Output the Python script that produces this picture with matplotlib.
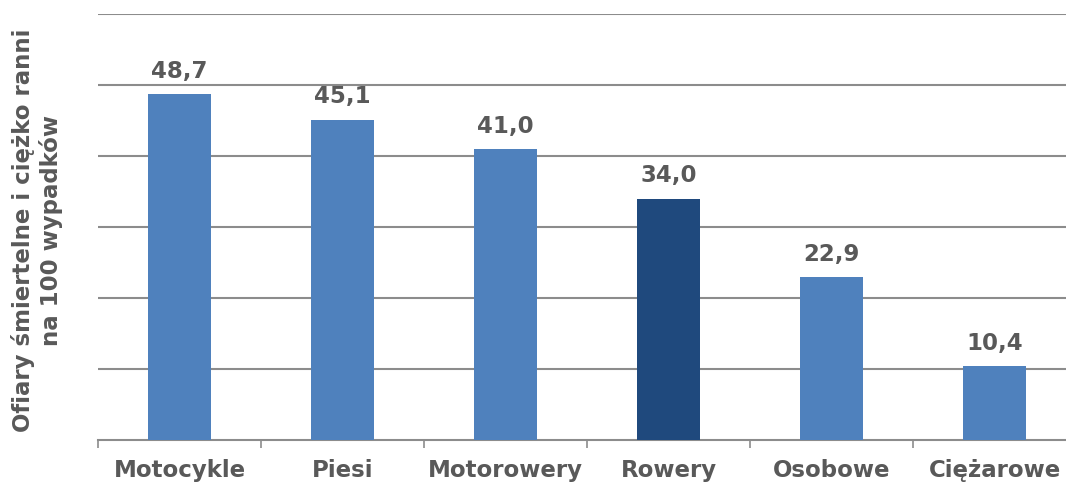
import matplotlib
matplotlib.use("Agg")
import matplotlib.pyplot as plt

categories = ["Motocykle", "Piesi", "Motorowery", "Rowery", "Osobowe", "Ciężarowe"]
values = [48.7, 45.1, 41.0, 34.0, 22.9, 10.4]
labels = ["48,7", "45,1", "41,0", "34,0", "22,9", "10,4"]
colors = ["#4F81BD", "#4F81BD", "#4F81BD", "#1F497D", "#4F81BD", "#4F81BD"]

W, H = 1066, 483
fig = plt.figure(figsize=(W / 100, H / 100), dpi=100)
ax = fig.add_axes([98 / W, (H - 440) / H, 978 / W, 426 / H])

text_color = "#595959"
grid_color = "#8C8C8C"
fs = 16.5

x = list(range(len(categories)))
ax.bar(x, values, width=0.39, color=colors, zorder=3)
for xi, v, lab in zip(x, values, labels):
    ax.text(xi, v + 1.6, lab, ha="center", va="bottom", fontsize=fs,
            fontweight="bold", color=text_color, family="DejaVu Sans")

ax.set_xlim(-0.5, len(categories) - 0.5)
ax.set_ylim(0, 60)
ax.set_yticks(range(10, 61, 10))
ax.yaxis.grid(True, color=grid_color, linewidth=1.5, zorder=0)
ax.tick_params(axis="y", length=0, labelleft=False)

ax.set_xticks(x)
ax.set_xticklabels(categories, fontsize=fs, fontweight="bold", color=text_color)
ax.tick_params(axis="x", length=0, pad=14)
ax.set_xticks([i - 0.5 for i in range(len(categories) + 1)], minor=True)
ax.tick_params(axis="x", which="minor", length=6, width=1.2, color=grid_color)

for s in ["top", "right", "left"]:
    ax.spines[s].set_visible(False)
ax.spines["bottom"].set_color(grid_color)
ax.spines["bottom"].set_linewidth(1.5)

fig.text(37 / W, 1 - 230 / H,
         "Ofiary śmiertelne i ciężko ranni\nna 100 wypadków",
         rotation=90, ha="center", va="center", fontsize=fs, fontweight="bold",
         color=text_color, linespacing=1.25, multialignment="center")

fig.savefig("out.png", dpi=100)
